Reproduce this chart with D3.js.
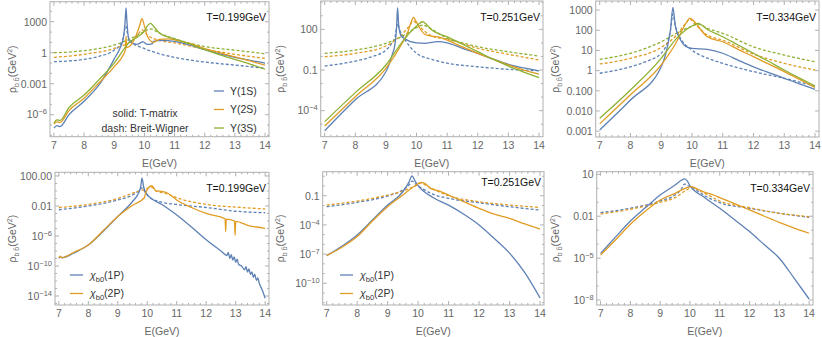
<!DOCTYPE html>
<html>
<head>
<meta charset="utf-8">
<script src="https://cdn.jsdelivr.net/npm/d3@7"></script>
<style>
  body { margin: 0; background: #fff; }
  text { font-family: "Liberation Sans", Arial, sans-serif; }
</style>
</head>
<body>
<svg id="chart" width="822" height="337"></svg>
<script>
const colors = ["#5e81b5", "#e19c24", "#8fb032"];
const temperatures = ["T=0.199GeV", "T=0.251GeV", "T=0.334GeV"];
const upsNames = ["Υ(1S)", "Υ(2S)", "Υ(3S)"];
const chiNames = ["(1P)", "(2P)"];
const xTicks = [7, 8, 9, 10, 11, 12, 13, 14];

// spectral functions, [E (GeV), log10 rho (GeV^2)]
// T = 0.199 GeV, Upsilon states
const ups1sTm199 = [[7,-7.3],[7.1,-7.05],[7.2,-7.15],[7.5,-6.0],[8,-4.7],[8.5,-3.1],[9,-0.6],[9.2,0.5],[9.3,1.4],[9.36,3.0],[9.39,4.35],[9.42,3.0],[9.5,1.1],[9.75,0.8],[9.95,1.05],[10.1,0.8],[10.25,0.85],[10.3,1.1],[10.6,1.2],[11,1.1],[11.5,0.75],[12,0.3],[12.5,-0.1],[13,-0.45],[13.5,-0.75],[14,-1.0]];
const ups2sTm199 = [[7,-6.9],[7.1,-6.7],[7.2,-6.75],[7.5,-5.6],[8,-4.4],[8.5,-2.9],[9,-1.35],[9.3,-0.2],[9.37,0.3],[9.39,1.6],[9.41,0.5],[9.5,0.6],[9.7,1.5],[9.85,2.7],[9.92,3.3],[10.0,2.6],[10.1,1.6],[10.3,1.0],[10.5,1.3],[10.8,1.35],[11,1.25],[11.5,0.9],[12,0.4],[12.5,0.0],[13,-0.4],[13.5,-0.8],[14,-1.2]];
const ups3sTm199 = [[7,-6.8],[7.1,-6.5],[7.2,-6.55],[7.5,-5.3],[8,-4.1],[8.5,-2.6],[9,-1.0],[9.5,1.0],[9.8,1.6],[10,2.1],[10.1,2.6],[10.2,2.85],[10.35,2.4],[10.5,1.9],[10.8,1.5],[11,1.35],[11.5,0.85],[12,0.3],[12.5,-0.2],[13,-0.65],[13.5,-1.1],[14,-1.6]];
const ups1sBw199 = [[7,-0.87],[8,-0.64],[8.5,-0.35],[9,0.26],[9.2,0.8],[9.3,1.5],[9.38,2.6],[9.46,1.6],[9.6,1.0],[10,0.4],[10.5,-0.1],[11,-0.45],[12,-0.9],[13,-1.2],[14,-1.5]];
const ups2sBw199 = [[7,-0.45],[8,-0.15],[9,0.42],[9.5,1.0],[9.75,1.6],[9.92,2.2],[10.1,1.7],[10.5,1.2],[11,0.95],[12,0.35],[13,-0.15],[14,-0.55]];
const ups3sBw199 = [[7,0.0],[8,0.2],[9,0.75],[9.5,1.3],[9.9,1.9],[10.2,2.3],[10.5,1.9],[11,1.35],[12,0.6],[13,0.25],[14,-0.1]];

// T = 0.251 GeV, Upsilon states
const ups1sTm251 = [[7,-5.48],[8,-3.2],[9,-1.13],[9.2,0.1],[9.3,0.97],[9.35,2.2],[9.38,3.6],[9.42,2.2],[9.5,1.5],[9.6,1.33],[10,1.0],[10.3,0.97],[10.7,1.09],[11,1.0],[11.5,0.6],[12,0.23],[12.5,-0.2],[13,-0.58],[13.5,-0.85],[14,-1.07]];
const ups2sTm251 = [[7,-5.13],[8,-2.97],[9,-0.88],[9.5,0.84],[9.7,1.7],[9.82,2.5],[9.9,2.88],[9.98,2.6],[10.1,2.1],[10.3,1.6],[10.5,1.5],[10.7,1.45],[11,1.2],[11.5,0.7],[12,0.23],[12.5,-0.2],[13,-0.63],[13.5,-1.0],[14,-1.3]];
const ups3sTm251 = [[7,-4.81],[8,-2.67],[9,-0.63],[9.5,0.97],[9.8,1.8],[10,2.24],[10.2,2.56],[10.35,2.3],[10.5,1.95],[10.7,1.7],[11,1.45],[11.5,0.9],[12,0.35],[12.5,-0.2],[13,-0.71],[13.5,-1.15],[14,-1.57]];
const ups1sBw251 = [[7,-0.71],[8,-0.34],[8.5,-0.05],[9,0.47],[9.2,1.0],[9.3,1.45],[9.38,2.4],[9.46,1.9],[9.6,1.33],[10,0.23],[10.5,-0.22],[11,-0.5],[12,-0.76],[13,-0.95],[14,-1.05]];
const ups2sBw251 = [[7,-0.02],[8,0.23],[9,0.77],[9.5,1.58],[9.75,2.2],[9.9,2.6],[10.05,2.3],[10.5,1.5],[11,1.27],[12,0.6],[13,0.16],[14,-0.26]];
const ups3sBw251 = [[7,0.23],[8,0.47],[9,0.97],[9.5,1.45],[9.9,2.0],[10.2,2.3],[10.5,2.0],[11,1.33],[11.5,1.0],[12,0.72],[13,0.35],[14,0.03]];

// T = 0.334 GeV, Upsilon states
const ups1sTm334 = [[7,-2.94],[8,-1.46],[9,0.19],[9.2,1.18],[9.3,2.0],[9.38,3.13],[9.46,2.2],[9.6,1.6],[9.8,1.2],[10,1.1],[10.5,1.05],[11,0.86],[11.5,0.52],[12,0.19],[12.5,-0.1],[13,-0.38],[13.5,-0.66],[14,-0.93]];
const ups2sTm334 = [[7,-2.64],[8,-1.2],[9,0.28],[9.5,1.43],[9.75,2.2],[9.93,2.59],[10.1,2.4],[10.3,2.0],[10.5,1.68],[11,1.43],[11.5,1.05],[12,0.69],[12.5,0.32],[13,-0.05],[13.5,-0.44],[14,-0.83]];
const ups3sTm334 = [[7,-2.36],[8,-0.96],[9,0.61],[9.5,1.6],[10,2.21],[10.2,2.34],[10.5,2.04],[11,1.68],[11.5,1.27],[12,0.86],[12.5,0.45],[13,0.03],[13.5,-0.37],[14,-0.76]];
const ups1sBw334 = [[7,-0.13],[8,0.19],[8.5,0.45],[9,0.86],[9.2,1.4],[9.3,2.0],[9.38,2.8],[9.46,2.2],[9.6,1.68],[10,1.02],[10.5,0.62],[11,0.36],[12,-0.05],[13,-0.38],[14,-0.76]];
const ups2sBw334 = [[7,0.33],[8,0.61],[9,1.15],[9.5,1.76],[9.8,2.35],[9.93,2.55],[10.1,2.3],[10.5,1.76],[11,1.51],[12,0.82],[13,0.36],[14,0.03]];
const ups3sBw334 = [[7,0.56],[8,0.86],[9,1.43],[9.5,1.85],[10,2.2],[10.2,2.3],[10.5,2.1],[11,1.85],[12,1.18],[13,0.77],[14,0.44]];

// T = 0.199 GeV, chi_b0 states
const chi1pTm199 = [[7,-8.98],[7.05,-8.75],[7.1,-8.9],[7.5,-8.3],[7.7,-7.9],[8,-7.2],[8.5,-5.4],[9,-3.4],[9.5,-1.4],[9.7,-0.3],[9.78,0.6],[9.82,1.7],[9.88,0.5],[10,-0.5],[10.5,-1.8],[11,-3.2],[11.5,-4.8],[12,-6.5],[12.5,-8.0],[12.7,-8.6],[12.75,-8.2],[12.8,-9.0],[12.85,-8.5],[12.9,-9.2],[12.95,-8.8],[13.0,-9.5],[13.05,-9.1],[13.1,-9.8],[13.2,-10.0],[13.3,-10.5],[13.35,-10.1],[13.4,-10.8],[13.45,-10.4],[13.5,-11.1],[13.55,-10.8],[13.6,-11.5],[13.65,-11.1],[13.7,-11.9],[13.75,-11.6],[13.8,-12.3],[13.9,-13.2],[14,-14.3]];
const chi2pTm199 = [[7,-8.9],[7.05,-8.7],[7.1,-8.9],[7.5,-8.2],[8,-7.2],[8.5,-5.3],[9,-3.4],[9.5,-1.9],[9.9,-0.9],[9.95,-0.2],[10.15,0.7],[10.3,0.0],[10.5,-0.05],[10.7,-0.3],[11,-1.2],[11.5,-2.2],[12,-3.0],[12.64,-3.7],[12.66,-5.4],[12.68,-3.75],[12.96,-4.0],[12.98,-5.9],[13.0,-4.05],[13.5,-4.7],[13.7,-4.8],[14,-5.0]];
const chi1pBw199 = [[7,-2.5],[8,-2.0],[9,-1.2],[9.5,-0.53],[9.7,0.0],[9.82,0.4],[9.95,-0.3],[10.1,-0.9],[10.5,-1.5],[11,-1.8],[12,-2.2],[13,-2.7],[14,-2.9]];
const chi2pBw199 = [[7,-2.2],[8,-1.8],[9,-1.0],[9.5,-0.3],[9.9,0.2],[10.15,0.5],[10.3,0.0],[10.6,-0.3],[11,-0.9],[12,-1.8],[13,-2.15],[14,-2.4]];

// T = 0.251 GeV, chi_b0 states
const chi1pTm251 = [[7,-7.16],[7.5,-6.2],[8,-5.04],[8.5,-3.5],[9,-1.96],[9.5,-0.59],[9.7,0.4],[9.8,1.05],[9.9,0.5],[10,0.03],[10.5,-1.2],[11,-1.96],[11.5,-2.9],[12,-4.0],[12.5,-5.4],[13,-6.9],[13.5,-8.9],[14,-11.5]];
const chi2pTm251 = [[7,-7.16],[7.5,-6.3],[8,-5.2],[8.5,-3.6],[9,-2.13],[9.5,-0.93],[9.9,0.03],[10.1,0.37],[10.25,0.2],[10.4,-0.25],[10.7,-0.52],[11,-0.93],[11.5,-1.6],[12,-2.3],[12.5,-2.9],[13,-3.33],[13.5,-3.9],[14,-4.42]];
const chi1pBw251 = [[7,-2.13],[8,-1.68],[9,-1.03],[9.5,-0.4],[9.7,0.1],[9.8,0.5],[9.95,0.1],[10.1,-0.2],[10.5,-0.86],[11,-1.27],[12,-1.72],[13,-2.13],[14,-2.47]];
const chi2pBw251 = [[7,-1.96],[8,-1.55],[9,-0.93],[9.5,-0.52],[9.9,0.0],[10.1,0.3],[10.3,0.0],[10.5,-0.32],[11,-1.0],[12,-1.62],[13,-1.96],[14,-2.2]];

// T = 0.334 GeV, chi_b0 states
const chi1pTm334 = [[7,-4.66],[7.5,-3.5],[8,-2.34],[8.5,-1.4],[9,-0.48],[9.5,0.24],[9.75,0.62],[9.82,0.67],[9.9,0.55],[10,0.19],[10.5,-0.67],[11,-1.43],[11.5,-2.25],[12,-3.1],[12.5,-4.05],[13,-5.01],[13.5,-6.45],[14,-7.93]];
const chi2pTm334 = [[7,-4.78],[7.5,-3.7],[8,-2.58],[8.5,-1.65],[9,-0.84],[9.5,-0.36],[9.9,0.05],[10.05,0.12],[10.2,0.0],[10.5,-0.29],[10.8,-0.48],[11,-0.67],[11.5,-1.1],[12,-1.55],[12.5,-2.0],[13,-2.44],[13.5,-2.85],[14,-3.22]];
const chi1pBw334 = [[7,-1.74],[8,-1.43],[9,-0.91],[9.5,-0.48],[9.7,-0.1],[9.82,0.3],[10,0.1],[10.2,-0.12],[10.5,-0.53],[11,-1.03],[12,-1.43],[13,-1.79],[14,-2.08]];
const chi2pBw334 = [[7,-1.84],[8,-1.5],[9,-1.0],[9.5,-0.67],[9.9,-0.1],[10.05,0.05],[10.2,-0.05],[10.5,-0.36],[11,-0.91],[12,-1.39],[13,-1.79],[14,-2.03]];

// y tick labels per panel: [log10 value, label]
const yTicksUps199 = [[3,"1000"],[0,"1"],[-3,"0.001"],[-6,"10^-6"]];
const yTicksUps251 = [[2,"100"],[-1,"0.1"],[-4,"10^-4"]];
const yTicksUps334 = [[3,"1000"],[2,"100"],[1,"10"],[0,"1"],[-1,"0.100"],[-2,"0.010"],[-3,"0.001"]];
const yTicksChi199 = [[2,"100.00"],[-2,"0.01"],[-6,"10^-6"],[-10,"10^-10"],[-14,"10^-14"]];
const yTicksChi251 = [[-1,"0.1"],[-4,"10^-4"],[-7,"10^-7"],[-10,"10^-10"]];
const yTicksChi334 = [[1,"10"],[-2,"0.01"],[-5,"10^-5"],[-8,"10^-8"]];

let panels = [
  {frame: [50, 1.7, 269, 136.7], yLog: [-8.13, 4.94], yTicks: yTicksUps199, labelX: 16, temp: 0, tempY: 20.5,
   solid: [ups1sTm199, ups2sTm199, ups3sTm199], dashed: [ups1sBw199, ups2sBw199, ups3sBw199], legend: "ups"},
  {frame: [320.7, 1, 543, 136.7], yLog: [-5.92, 4.09], yTicks: yTicksUps251, labelX: 284, temp: 1, tempY: 20.5,
   solid: [ups1sTm251, ups2sTm251, ups3sTm251], dashed: [ups1sBw251, ups2sBw251, ups3sBw251]},
  {frame: [595.7, 1, 819, 137], yLog: [-3.29, 3.45], yTicks: yTicksUps334, labelX: 559, temp: 2, tempY: 20.5,
   solid: [ups1sTm334, ups2sTm334, ups3sTm334], dashed: [ups1sBw334, ups2sBw334, ups3sBw334]},
  {frame: [55, 172.3, 269, 305], yLog: [-15.2, 2.49], yTicks: yTicksChi199, labelX: 16, temp: 0, tempY: 192,
   solid: [chi1pTm199, chi2pTm199], dashed: [chi1pBw199, chi2pBw199], legend: "chi", legendX: 70},
  {frame: [322.7, 171.7, 544, 305], yLog: [-12.23, 1.47], yTicks: yTicksChi251, labelX: 284, temp: 1, tempY: 185.5,
   solid: [chi1pTm251, chi2pTm251], dashed: [chi1pBw251, chi2pBw251], legend: "chi", legendX: 340},
  {frame: [596.7, 171.7, 813, 305], yLog: [-8.36, 1.19], yTicks: yTicksChi334, labelX: 559, temp: 2, tempY: 192,
   solid: [chi1pTm334, chi2pTm334], dashed: [chi1pBw334, chi2pBw334]}
];

const svg = d3.select("#chart");
const frameColor = "#b0b0b0";
const labelColor = "#666";

function addLabel(sel, label) {
  // "10^-6" -> 10 with superscript −6
  let parts = label.split("^");
  sel.text(parts[0]);
  if (parts.length > 1) {
    sel.append("tspan").attr("dy", -4).attr("font-size", 7.5).text(parts[1].replace("-", "\u2212"));
  }
}

panels.forEach((p, pi) => {
  let [x0, y0, x1, y1] = p.frame;
  let x = d3.scaleLinear().domain([6.87, 14.13]).range([x0, x1]);
  let y = d3.scaleLog().domain([10 ** p.yLog[0], 10 ** p.yLog[1]]).range([y1, y0]);
  let g = svg.append("g");

  let clipId = "clip" + pi;
  g.append("clipPath").attr("id", clipId)
    .append("rect").attr("x", x0).attr("y", y0).attr("width", x1 - x0).attr("height", y1 - y0);

  let line = d3.line()
    .x(d => x(d[0]))
    .y(d => y(10 ** d[1]))
    .curve(d3.curveMonotoneX);

  let plot = g.append("g").attr("clip-path", `url(#${clipId})`);
  plot.selectAll("path.bw")
    .data(p.dashed)
    .join("path")
    .classed("bw", true)
    .attr("d", line)
    .attr("fill", "none")
    .attr("stroke", (d, i) => colors[i])
    .attr("stroke-width", 1.3)
    .attr("stroke-dasharray", "3,2");
  plot.selectAll("path.tm")
    .data(p.solid)
    .join("path")
    .classed("tm", true)
    .attr("d", line)
    .attr("fill", "none")
    .attr("stroke", (d, i) => colors[i])
    .attr("stroke-width", 1.3);

  // frame
  g.append("rect")
    .attr("x", x0).attr("y", y0)
    .attr("width", x1 - x0).attr("height", y1 - y0)
    .attr("fill", "none").attr("stroke", frameColor).attr("stroke-width", 1);

  // x ticks, major every GeV, minor every 0.2
  let xMinor = d3.range(35, 71).map(v => v / 5);
  xMinor.forEach(v => {
    let major = Math.abs(v - Math.round(v)) < 1e-6;
    let len = major ? 4 : 2;
    g.append("line").attr("x1", x(v)).attr("x2", x(v)).attr("y1", y1).attr("y2", y1 - len)
      .attr("stroke", frameColor);
    g.append("line").attr("x1", x(v)).attr("x2", x(v)).attr("y1", y0).attr("y2", y0 + len)
      .attr("stroke", frameColor);
  });
  g.selectAll("text.xtick")
    .data(xTicks)
    .join("text")
    .classed("xtick", true)
    .attr("x", d => x(d))
    .attr("y", y1 + 12)
    .attr("text-anchor", "middle")
    .attr("font-size", 10.5)
    .attr("fill", labelColor)
    .text(d => d);

  // y ticks: major at labels, minor at each decade
  let lo = Math.ceil(p.yLog[0]), hi = Math.floor(p.yLog[1]);
  let labelled = p.yTicks.map(t => t[0]);
  d3.range(lo, hi + 1).forEach(e => {
    let len = labelled.includes(e) ? 4 : 2;
    let yy = y(10 ** e);
    g.append("line").attr("x1", x0).attr("x2", x0 + len).attr("y1", yy).attr("y2", yy).attr("stroke", frameColor);
    g.append("line").attr("x1", x1).attr("x2", x1 - len).attr("y1", yy).attr("y2", yy).attr("stroke", frameColor);
  });
  g.selectAll("text.ytick")
    .data(p.yTicks)
    .join("text")
    .classed("ytick", true)
    .attr("x", x0 - 3)
    .attr("y", d => y(10 ** d[0]) + 3.8)
    .attr("text-anchor", "end")
    .attr("font-size", 10.5)
    .attr("fill", labelColor)
    .each(function(d) { addLabel(d3.select(this), d[1]); });

  // axis labels
  g.append("text")
    .attr("x", (x0 + x1) / 2)
    .attr("y", y1 + 30)
    .attr("text-anchor", "middle")
    .attr("font-size", 10.5)
    .attr("fill", labelColor)
    .text("E(GeV)");

  let yl = g.append("text")
    .attr("transform", `translate(${p.labelX},${(y0 + y1) / 2}) rotate(-90)`)
    .attr("text-anchor", "middle")
    .attr("font-size", 10.5)
    .attr("fill", labelColor);
  yl.append("tspan").text("ρ");
  yl.append("tspan").attr("dy", 3).attr("font-size", 7).text("b b\u0304");
  yl.append("tspan").attr("dy", -3).text("(GeV");
  yl.append("tspan").attr("dy", -4).attr("font-size", 7).text("2");
  yl.append("tspan").attr("dy", 4).text(")");

  // temperature
  g.append("text")
    .attr("x", x1 - 3)
    .attr("y", p.tempY)
    .attr("text-anchor", "end")
    .attr("font-size", 10.5)
    .attr("fill", "#111")
    .text(temperatures[p.temp]);

  // legends
  if (p.legend === "ups") {
    let lg = g.selectAll("g.leg").data(upsNames).join("g").classed("leg", true)
      .attr("transform", (d, i) => `translate(214,${91 + i * 18.5})`);
    lg.append("line").attr("x1", 0).attr("x2", 10).attr("stroke", (d, i) => colors[i]).attr("stroke-width", 1.3);
    lg.append("text").attr("x", 16).attr("y", 3.8).attr("font-size", 10.5).attr("fill", "#333").text(d => d);
    g.append("text").attr("x", 145).attr("y", 117).attr("text-anchor", "middle")
      .attr("font-size", 10.5).attr("fill", "#333").text("solid: T-matrix");
    g.append("text").attr("x", 145).attr("y", 131.5).attr("text-anchor", "middle")
      .attr("font-size", 10.5).attr("fill", "#333").text("dash: Breit-Wigner");
  }
  if (p.legend === "chi") {
    let lg = g.selectAll("g.leg").data(chiNames).join("g").classed("leg", true)
      .attr("transform", (d, i) => `translate(${p.legendX},${275 + i * 18.5})`);
    lg.append("line").attr("x1", 0).attr("x2", 13).attr("stroke", (d, i) => colors[i]).attr("stroke-width", 1.3);
    let t = lg.append("text").attr("x", 20).attr("y", 3.8).attr("font-size", 10.5).attr("fill", "#333");
    t.append("tspan").attr("font-style", "italic").text("χ");
    t.append("tspan").attr("dy", 3).attr("font-size", 7.5).text("b0");
    t.append("tspan").attr("dy", -3).text(d => d);
  }
});
</script>
</body>
</html>
